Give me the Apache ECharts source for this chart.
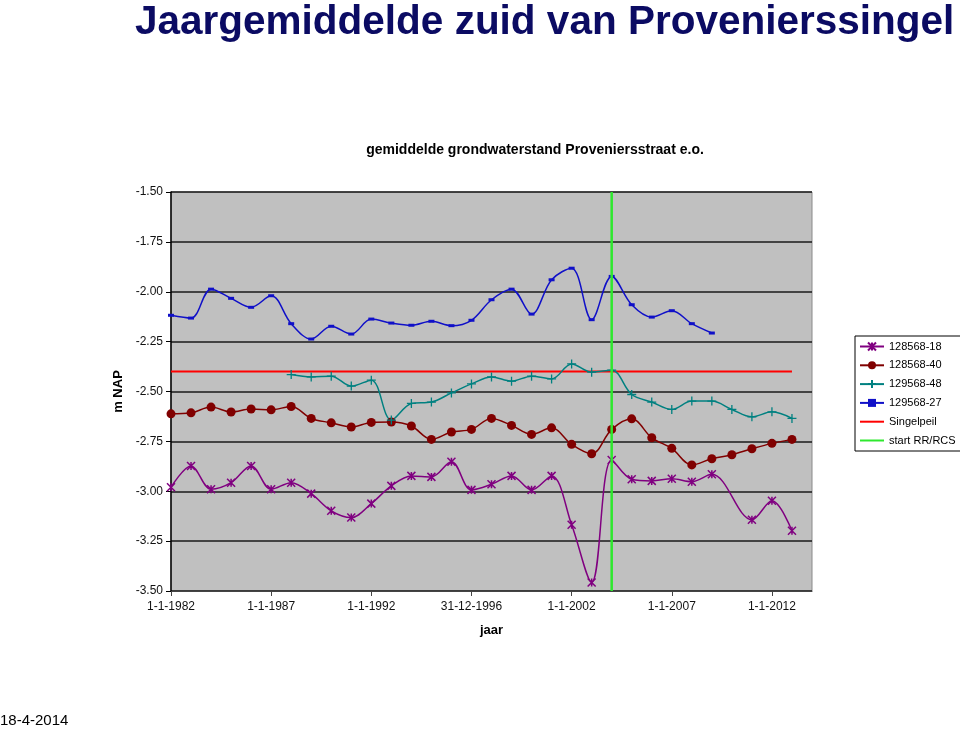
<!DOCTYPE html>
<html>
<head>
<meta charset="utf-8">
<script src="https://cdn.jsdelivr.net/npm/echarts@6/dist/echarts.min.js"></script>
<style>html,body{margin:0;padding:0;background:#fff;}#c{width:960px;height:730px;}</style>
</head>
<body>
<div id="c"></div>
<script>
// Data
var years = [1982,1983,1984,1985,1986,1987,1988,1989,1990,1991,1992,1993,1994,1995,1996,1997,
             1998,1999,2000,2001,2002,2003,2004,2005,2006,2007,2008,2009,2010,2011,2012,2013];
var s128568_18 = [-2.98,-2.873,-2.99,-2.957,-2.873,-2.99,-2.957,-3.012,-3.098,-3.132,-3.062,-2.973,-2.923,-2.928,-2.852,-2.993,
                  -2.965,-2.923,-2.993,-2.923,-3.168,-3.457,-2.843,-2.94,-2.948,-2.937,-2.952,-2.915,null,-3.143,-3.048,-3.198];
var s128568_40 = [-2.612,-2.607,-2.578,-2.603,-2.588,-2.592,-2.575,-2.635,-2.657,-2.678,-2.655,-2.653,-2.673,-2.74,-2.703,-2.69,
                  -2.635,-2.67,-2.715,-2.682,-2.765,-2.812,-2.69,-2.637,-2.732,-2.785,-2.868,-2.837,-2.817,-2.787,-2.76,-2.74];
var s129568_48 = [null,null,null,null,null,null,-2.415,-2.427,-2.423,-2.473,-2.443,-2.643,-2.56,-2.553,-2.507,-2.462,
                  -2.427,-2.448,-2.423,-2.437,-2.362,-2.403,-2.393,-2.515,-2.553,-2.59,-2.548,-2.548,-2.59,-2.627,-2.602,-2.635];
var s129568_27 = [-2.118,-2.132,-1.987,-2.033,-2.078,-2.02,-2.16,-2.237,-2.173,-2.212,-2.137,-2.157,-2.168,-2.148,-2.17,-2.143,
                  -2.04,-1.987,-2.112,-1.94,-1.882,-2.14,-1.923,-2.065,-2.127,-2.095,-2.16,-2.207,null,null,null,null];
var singelpeilYears = [1982, 2013];
var singelpeilValues = [-2.40, -2.40];
var startYears = [2004, 2004];
var startValues = [-1.50, -3.50];
var xTickLabels = ["1-1-1982","1-1-1987","1-1-1992","31-12-1996","1-1-2002","1-1-2007","1-1-2012"];
var seriesNames = ["128568-18","128568-40","129568-48","129568-27","Singelpeil","start RR/RCS"];

function pairs(xs, vs){
  var out=[];
  for(var i=0;i<xs.length;i++){ if(vs[i]!==null && vs[i]!==undefined) out.push([xs[i], vs[i]]); }
  return out;
}

var FONT = "'Liberation Sans', Arial, sans-serif";
var chart = echarts.init(document.getElementById('c'), null, {renderer:'canvas'});
var starPath = 'path://M0,0L10,10M10,0L0,10M5,0L5,10';
var plusPath = 'path://M5,0L5,10M0,5L10,5';

var legendData = seriesNames.map(function(n, i){
  if (i >= 4) return {name:n, itemStyle:{color:'rgba(0,0,0,0)', opacity:0, borderWidth:0}};
  return {name:n};
});

chart.setOption({
  backgroundColor:'#ffffff',
  animation:false,
  title:[
    {text:'Jaargemiddelde zuid van Provenierssingel', left:135, top:2, padding:0,
     textStyle:{fontFamily:FONT, fontSize:40.5, fontWeight:'bold', color:'#0b0b63'}},
    {text:'gemiddelde grondwaterstand Proveniersstraat e.o.', left:535, top:143, padding:0, textAlign:'center',
     textStyle:{fontFamily:FONT, fontSize:14, fontWeight:'bold', color:'#000'}},
    {text:'18-4-2014', left:0, top:713, padding:0,
     textStyle:{fontFamily:FONT, fontSize:15, fontWeight:'normal', color:'#000'}}
  ],
  grid:{left:171, right:148, top:192, bottom:139, show:true, backgroundColor:'#c0c0c0',
        borderColor:'#8a8a8a', borderWidth:1},
  legend:{
    orient:'vertical', left:855, top:336,
    backgroundColor:'#fff', borderColor:'#000', borderWidth:1,
    padding:[5,8,5,4], itemGap:7.8, itemWidth:24, itemHeight:10,
    data:legendData,
    textStyle:{fontFamily:FONT, fontSize:11, color:'#000'}
  },
  xAxis:{
    type:'value', min:1982, max:2014, interval:5,
    name:'jaar', nameLocation:'middle', nameGap:33,
    nameTextStyle:{fontFamily:FONT, fontSize:13, fontWeight:'bold', color:'#000'},
    axisLine:{show:true, onZero:false, lineStyle:{color:'#444', width:1}},
    axisTick:{show:true, inside:false, length:5, lineStyle:{color:'#444'}},
    splitLine:{show:false},
    axisLabel:{fontFamily:FONT, fontSize:12, color:'#111', margin:10,
      formatter:function(v){ var i=Math.round((v-1982)/5); return xTickLabels[i]||''; }}
  },
  yAxis:{
    type:'value', min:-3.5, max:-1.5, interval:0.25,
    name:'m NAP', nameLocation:'middle', nameGap:42, nameRotate:90,
    nameTextStyle:{fontFamily:FONT, fontSize:13, fontWeight:'bold', color:'#000'},
    axisLine:{show:true, onZero:false, lineStyle:{color:'#000', width:1.5}},
    axisTick:{show:true, inside:false, length:5, lineStyle:{color:'#000'}},
    splitLine:{show:true, lineStyle:{color:'#1a1a1a', width:1.5}},
    axisLabel:{fontFamily:FONT, fontSize:12, color:'#111', margin:8,
      formatter:function(v){ return v.toFixed(2); }}
  },
  series:[
    {name:seriesNames[0], type:'line', smooth:0.35, data:pairs(years, s128568_18),
     symbol:starPath, symbolSize:8, z:4,
     lineStyle:{color:'#800080', width:1.5},
     itemStyle:{color:'#800080', borderColor:'#800080', borderWidth:1.5}},
    {name:seriesNames[1], type:'line', smooth:0.35, data:pairs(years, s128568_40),
     symbol:'circle', symbolSize:9, z:4,
     lineStyle:{color:'#800000', width:1.5},
     itemStyle:{color:'#800000', borderColor:'#800000', borderWidth:0}},
    {name:seriesNames[2], type:'line', smooth:0.35, data:pairs(years, s129568_48),
     symbol:plusPath, symbolSize:9, z:4,
     lineStyle:{color:'#008080', width:1.5},
     itemStyle:{color:'#008080', borderColor:'#008080', borderWidth:1.3}},
    {name:seriesNames[3], type:'line', smooth:0.35, data:pairs(years, s129568_27),
     symbol:'rect', symbolSize:[6,3], z:4,
     lineStyle:{color:'#1010c8', width:1.5},
     itemStyle:{color:'#1010c8', borderWidth:0}},
    {name:seriesNames[4], type:'line', data:pairs(singelpeilYears, singelpeilValues),
     symbol:'none', z:3,
     lineStyle:{color:'#ff0000', width:2}, itemStyle:{color:'#ff0000'}},
    {name:seriesNames[5], type:'line', data:pairs(startYears, startValues),
     symbol:'none', z:5,
     lineStyle:{color:'#2ee82e', width:2.5}, itemStyle:{color:'#2ee82e'}}
  ]
});
</script>
</body>
</html>
